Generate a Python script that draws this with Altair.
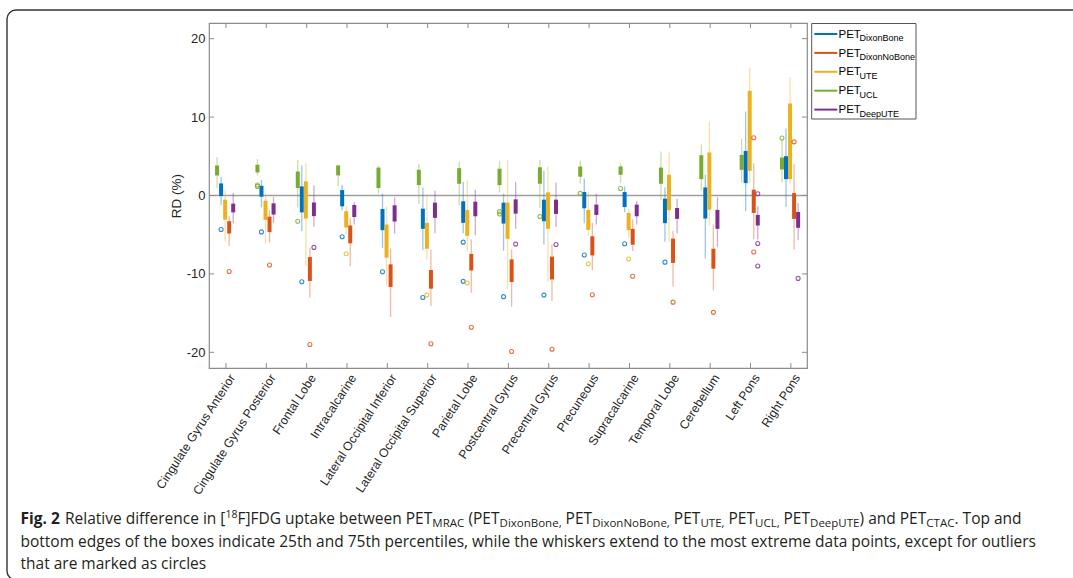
import altair as alt
import pandas as pd

# ---------------- data ----------------
categories = ["Cingulate Gyrus Anterior", "Cingulate Gyrus Posterior", "Frontal Lobe",
              "Intracalcarine", "Lateral Occipital Inferior", "Lateral Occipital Superior",
              "Parietal Lobe", "Postcentral Gyrus", "Precentral Gyrus", "Precuneous",
              "Supracalcarine", "Temporal Lobe", "Cerebellum", "Left Pons", "Right Pons"]

# order of boxes inside a group (left to right)
box_order = ["UCL", "DixonBone", "UTE", "DixonNoBone", "DeepUTE"]
# legend order
legend_order = ["DixonBone", "DixonNoBone", "UTE", "UCL", "DeepUTE"]
colors = {"DixonBone": "#0072BD", "DixonNoBone": "#D95319", "UTE": "#EDB120",
          "UCL": "#77AC30", "DeepUTE": "#7E2F8E"}

ucl_whi = [4.89, 4.63, 4.55, 3.92, 3.83, 4.04, 4.29, 4.42, 4.55, 4.46, 4.12, 5.6, 6.49, 7.25, 7.09]
ucl_q3 = [3.83, 3.92, 3.06, 3.83, 3.56, 3.28, 3.49, 3.41, 3.6, 3.7, 3.7, 3.56, 5.14, 5.18, 4.84]
ucl_q1 = [2.56, 2.94, 0.95, 2.56, 0.95, 1.33, 1.5, 1.33, 1.5, 2.39, 2.64, 1.5, 2.09, 3.28, 3.32]
ucl_wlo = [0.95, 2.56, -1.52, 1.16, 0.23, -1.08, -1.25, 0.44, -1.59, 1.5, 1.58, -0.53, 0.65, 1.67, 1.67]
ucl_out_cat = [1, 1, 2, 7, 7, 8, 9, 10, 14]
ucl_out_val = [1.16, 1.33, -3.28, -2.35, -2.06, -2.69, 0.27, 0.9, 7.33]

dixonbone_whi = [2.39, 2.0, 3.83, 1.37, 0.23, 1.03, 1.71, 0.23, 3.15, 2.18, 1.16, 1.03, 2.64, 10.7, 8.56]
dixonbone_q3 = [1.54, 1.24, 1.16, 0.69, -1.72, -1.68, -0.74, -0.91, -0.53, 0.44, 0.44, -0.4, 1.03, 5.68, 5.01]
dixonbone_q1 = [-0.07, -0.15, -2.15, -1.38, -4.42, -4.25, -3.49, -3.58, -3.28, -1.63, -1.46, -3.53, -2.94, 1.58, 2.09]
dixonbone_wlo = [-1.25, -1.52, -4.55, -1.89, -6.7, -6.96, -4.8, -7.05, -6.24, -3.53, -2.14, -5.9, -8.03, -2.01, -1.46]
dixonbone_out_cat = [0, 1, 2, 3, 4, 5, 6, 6, 7, 8, 9, 10, 11]
dixonbone_out_val = [-4.34, -4.64, -11.0, -5.27, -9.72, -13.0, -5.95, -10.95, -12.9, -12.7, -7.59, -6.16, -8.5]

ute_whi = [0.74, 0.31, 4.12, -1.4, -1.38, 0.1, 1.92, 4.55, 3.7, 0.52, -1.72, 5.6, 9.4, 16.3, 15.1]
ute_q3 = [-0.53, -0.66, 1.8, -2.0, -3.7, -3.49, -1.84, -0.91, 0.4, -1.84, -2.22, 2.64, 5.48, 13.35, 11.74]
ute_q1 = [-3.07, -3.11, -2.94, -4.08, -7.93, -6.79, -5.14, -5.52, -4.25, -4.38, -4.42, -1.88, -1.8, 3.15, 2.09]
ute_wlo = [-5.82, -6.16, -9.0, -5.0, -11.5, -8.14, -7.17, -11.9, -11.0, -5.2, -5.4, -5.9, -3.83, 1.58, 1.5]
ute_out_cat = [3, 5, 6, 9, 10]
ute_out_val = [-7.43, -12.7, -11.16, -8.7, -8.1]

dixonnobone_whi = [-2.64, -1.89, -6.66, -2.86, -6.75, -6.88, -5.6, -6.88, -6.24, -3.49, -3.07, -4.5, -3.7, 4.12, 4.04]
dixonnobone_q3 = [-3.28, -2.7, -7.85, -3.83, -8.78, -9.5, -7.45, -8.15, -7.8, -5.2, -4.25, -5.5, -6.79, 0.74, 0.31]
dixonnobone_q1 = [-4.85, -4.67, -10.9, -6.1, -11.66, -11.88, -9.56, -11.03, -10.7, -7.64, -6.28, -8.6, -9.33, -2.22, -2.98]
dixonnobone_wlo = [-6.45, -6.03, -13.0, -9.0, -15.5, -14.1, -12.4, -14.2, -13.5, -9.5, -7.09, -11.6, -12.1, -5.6, -6.88]
dixonnobone_out_cat = [0, 1, 2, 5, 6, 7, 8, 9, 10, 11, 12, 13, 13, 14]
dixonnobone_out_val = [-9.7, -8.86, -19.0, -18.9, -16.8, -19.9, -19.6, -12.66, -10.3, -13.6, -14.9, 7.37, -7.2, 6.84]

deepute_whi = [0.31, -0.2, 1.29, -0.87, -0.24, 0.61, 0.74, 1.71, 1.67, 0.23, -0.74, -0.4, -0.24, -1.38, -0.95]
deepute_q3 = [-1.04, -1.0, -0.89, -1.21, -1.25, -0.91, -0.79, -0.49, -0.53, -1.16, -1.16, -1.59, -1.84, -2.48, -2.1]
deepute_q1 = [-2.15, -2.43, -2.63, -2.74, -3.32, -2.85, -2.65, -2.31, -2.35, -2.48, -2.65, -2.98, -4.25, -3.83, -4.12]
deepute_wlo = [-3.57, -3.49, -3.96, -3.7, -4.85, -4.8, -5.07, -4.25, -3.98, -3.7, -3.7, -4.85, -6.58, -5.6, -5.7]
deepute_out_cat = [2, 7, 8, 13, 13, 13, 14]
deepute_out_val = [-6.62, -6.2, -6.24, 0.23, -6.12, -9.0, -10.57]

legend_subs = {"DixonBone": "DixonBone", "DixonNoBone": "DixonNoBone", "UTE": "UTE",
               "UCL": "UCL", "DeepUTE": "DeepUTE"}

y_ticks = [-20, -10, 0, 10, 20]

# ---------------- assemble tables ----------------
series = {
    "UCL": (ucl_wlo, ucl_q1, ucl_q3, ucl_whi, ucl_out_cat, ucl_out_val),
    "DixonBone": (dixonbone_wlo, dixonbone_q1, dixonbone_q3, dixonbone_whi, dixonbone_out_cat, dixonbone_out_val),
    "UTE": (ute_wlo, ute_q1, ute_q3, ute_whi, ute_out_cat, ute_out_val),
    "DixonNoBone": (dixonnobone_wlo, dixonnobone_q1, dixonnobone_q3, dixonnobone_whi, dixonnobone_out_cat, dixonnobone_out_val),
    "DeepUTE": (deepute_wlo, deepute_q1, deepute_q3, deepute_whi, deepute_out_cat, deepute_out_val),
}
GROUP_STEP = 0.1
GROUP_SHIFT = -0.02

box_rows, out_rows = [], []
for k, m in enumerate(box_order):
    wlo, q1, q3, whi, oc, ov = series[m]
    off = (k - 2) * GROUP_STEP + GROUP_SHIFT
    for i in range(len(categories)):
        box_rows.append({"method": m, "pos": i + off, "wlo": wlo[i], "q1": q1[i], "q3": q3[i], "whi": whi[i]})
    for c, v in zip(oc, ov):
        out_rows.append({"method": m, "pos": c + off, "val": v})
boxes = pd.DataFrame(box_rows)
outliers = pd.DataFrame(out_rows)

# ---------------- layout ----------------
W, H = 598, 345
PAD_L, PAD_T = 209, 23
PAD_R, PAD_B = 1073 - PAD_L - W, 578 - PAD_T - H
AX = "#8c8c8c"
TXT = "#262626"
FONT = "Liberation Sans"

xs = alt.Scale(domain=[-0.42, 14.40], nice=False, zero=False)
ys = alt.Scale(domain=[-22, 22], nice=False, zero=False)
cs = alt.Scale(domain=legend_order, range=[colors[m] for m in legend_order])

label_arr = "[" + ",".join("'" + c + "'" for c in categories) + "]"
xaxis = alt.Axis(values=list(range(len(categories))), labelExpr=label_arr + "[round(datum.value)]",
                 labelAngle=-57, labelAlign="right", labelBaseline="middle", labelOffset=6,
                 labelPadding=7, ticks=False, domain=False, grid=False, title=None,
                 labelFontSize=12.3, labelFont=FONT, labelColor=TXT, labelOverlap=False,
                 labelFlush=False, labelBound=False)
yaxis = alt.Axis(values=y_ticks, labelExpr="'' + datum.value", ticks=False, domain=False, grid=False,
                 title="RD (%)", titleFont=FONT, titleFontSize=13.5, titleFontWeight="normal",
                 titleColor=TXT, titlePadding=3, labelFontSize=13, labelFont=FONT, labelColor=TXT,
                 labelPadding=4)

def X(field):
    return alt.X(field, type="quantitative", scale=xs, axis=xaxis)

def Y(field):
    return alt.Y(field, type="quantitative", scale=ys, axis=yaxis)

color = alt.Color("method:N", scale=cs, legend=None)

layers = []

# zero line
zero = pd.DataFrame({"v": [0]})
layers.append(alt.Chart(zero).mark_rule(color="#9e9e9e", strokeWidth=1.6).encode(
    y=Y("v"), x=alt.value(0), x2=alt.value(W)))

# whiskers
layers.append(alt.Chart(boxes).mark_rule(strokeWidth=1.3, opacity=0.4).encode(
    x=X("pos"), y=Y("wlo"), y2="whi", color=color))
# boxes
layers.append(alt.Chart(boxes).mark_rule(strokeWidth=4).encode(
    x=X("pos"), y=Y("q1"), y2="q3", color=color))
# outliers
layers.append(alt.Chart(outliers).mark_point(shape="circle", filled=False, size=16, strokeWidth=1.1,
                                             opacity=0.8).encode(
    x=X("pos"), y=Y("val"), color=color))

# inward ticks
yt = pd.DataFrame({"v": y_ticks})
xt = pd.DataFrame({"v": list(range(len(categories)))})
layers.append(alt.Chart(yt).mark_rule(color=AX, strokeWidth=1).encode(y=Y("v"), x=alt.value(0), x2=alt.value(5)))
layers.append(alt.Chart(yt).mark_rule(color=AX, strokeWidth=1).encode(y=Y("v"), x=alt.value(W), x2=alt.value(W - 5)))
layers.append(alt.Chart(xt).mark_rule(color=AX, strokeWidth=1).encode(x=X("v"), y=alt.value(H), y2=alt.value(H - 5)))
layers.append(alt.Chart(xt).mark_rule(color=AX, strokeWidth=1).encode(x=X("v"), y=alt.value(0), y2=alt.value(5)))

one = pd.DataFrame({"a": [0]})

# legend (manual, to allow subscripts)
LX0 = 811.7 - PAD_L
layers.append(alt.Chart(one).mark_rect(fill="white", stroke="#555555", strokeWidth=1).encode(
    x=alt.value(LX0), x2=alt.value(916 - PAD_L), y=alt.value(0.5), y2=alt.value(96)))
for r, m in enumerate(legend_order):
    ly = 34 - PAD_T + r * 18.9
    layers.append(alt.Chart(one).mark_rule(strokeWidth=2, color=colors[m]).encode(
        x=alt.value(814.3 - PAD_L), x2=alt.value(837.3 - PAD_L), y=alt.value(ly)))
    layers.append(alt.Chart(one).mark_text(text="PET", align="left", baseline="alphabetic", font=FONT,
                                           fontSize=11.5, color="#000000").encode(
        x=alt.value(838.5 - PAD_L), y=alt.value(ly + 3.6)))
    layers.append(alt.Chart(one).mark_text(text=legend_subs[m], align="left", baseline="alphabetic",
                                           font=FONT, fontSize=9, color="#000000").encode(
        x=alt.value(859.5 - PAD_L), y=alt.value(ly + 7.2)))

# figure frame
layers.append(alt.Chart(one).mark_rect(fillOpacity=0, stroke="#333333", strokeWidth=1.4, cornerRadius=9).encode(
    x=alt.value(7 - PAD_L), x2=alt.value(1090 - PAD_L), y=alt.value(10 - PAD_T), y2=alt.value(580 - PAD_T)))

# caption
OSW = {" ": 532, "(": 600, ")": 600, ",": 502, ".": 545, "[": 674, "]": 674, "1": 1171, "2": 1171, "8": 1171,
       "A": 1296, "B": 1327, "C": 1292, "D": 1493, "E": 1139, "F": 1057, "G": 1491, "L": 1063, "M": 1849,
       "N": 1544, "P": 1233, "R": 1266, "T": 1139, "U": 1491,
       "a": 1139, "b": 1255, "c": 975, "d": 1255, "e": 1149, "f": 694, "g": 1122, "h": 1257, "i": 518,
       "k": 1075, "l": 518, "n": 1257, "o": 1237, "p": 1255, "r": 836, "t": 723, "u": 1257, "v": 1026,
       "w": 1593, "x": 1073, "y": 1028}

def text_w(s, size, bold=False):
    return sum(OSW.get(ch, 1100) for ch in s) / 2048.0 * size * (1.08 if bold else 1.0)

CAP_FONT = "Open Sans"
CAP_COL = "#231f20"
FS, FSUB, FSUP = 15.5, 11.5, 10.5
line1 = [("Fig. 2", "b"), (" Relative difference in [", "n"), ("18", "sup"), ("F]FDG uptake between PET", "n"),
         ("MRAC", "sub"), (" (PET", "n"), ("DixonBone,", "sub"), (" PET", "n"), ("DixonNoBone,", "sub"),
         (" PET", "n"), ("UTE,", "sub"), (" PET", "n"), ("UCL,", "sub"), (" PET", "n"), ("DeepUTE", "sub"),
         (") and PET", "n"), ("CTAC", "sub"), (". Top and", "n")]
cx = 20.5
base1 = 523.5
for txt, kind in line1:
    if kind == "sub":
        size, dy, bold = FSUB, 3, False
    elif kind == "sup":
        size, dy, bold = FSUP, -6, False
    else:
        size, dy, bold = FS, 0, kind == "b"
    lead = len(txt) - len(txt.lstrip(" "))
    start = cx + text_w(" " * lead, size, bold)
    layers.append(alt.Chart(one).mark_text(text=txt.strip(" "), align="left", baseline="alphabetic",
                                           font=CAP_FONT, fontSize=size,
                                           fontWeight="bold" if bold else "normal",
                                           color=CAP_COL).encode(
        x=alt.value(start - PAD_L), y=alt.value(base1 + dy - PAD_T)))
    cx += text_w(txt, size, bold)

line2 = "bottom edges of the boxes indicate 25th and 75th percentiles, while the whiskers extend to the most extreme data points, except for outliers"
line3 = "that are marked as circles"
for txt, by in [(line2, 546.5), (line3, 569)]:
    layers.append(alt.Chart(one).mark_text(text=txt, align="left", baseline="alphabetic", font=CAP_FONT,
                                           fontSize=FS, color=CAP_COL).encode(
        x=alt.value(20.5 - PAD_L), y=alt.value(by - PAD_T)))

chart = alt.layer(*layers).properties(
    width=W, height=H,
    autosize=alt.AutoSizeParams(type="none"),
    padding={"left": PAD_L, "top": PAD_T, "right": PAD_R, "bottom": PAD_B},
    background="white",
).configure_view(stroke=AX, strokeWidth=1.2)

chart.save("out.html", embed_options={"renderer": "svg", "actions": False})
